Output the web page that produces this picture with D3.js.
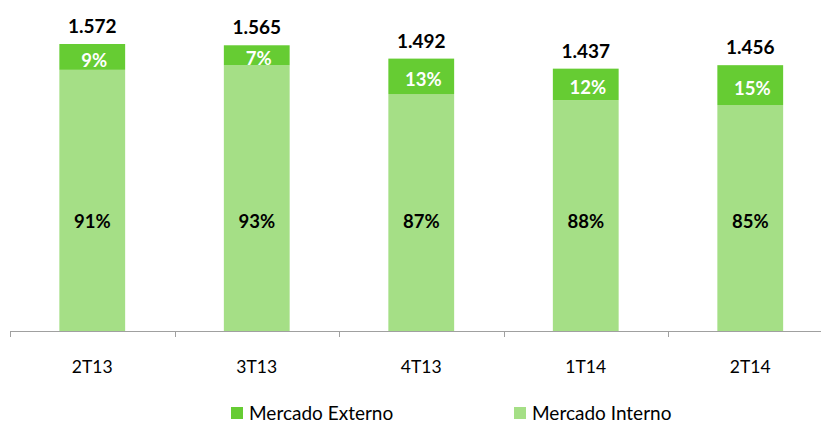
<!DOCTYPE html>
<html><head><meta charset="utf-8">
<script src="https://cdn.jsdelivr.net/npm/d3@7"></script>
<style>body{margin:0;background:#fff}svg{display:block}text{font-family:Lato,"Open Sans",sans-serif}</style>
</head><body>
<svg id="c" width="821" height="423"></svg>
<script>
const categories = ["2T13","3T13","4T13","1T14","2T14"];
const totals = [1572,1565,1492,1437,1456];
const externoPct = [9,7,13,12,15];
const internoPct = [91,93,87,88,85];
const seriesNames = ["Mercado Externo","Mercado Interno"];
const colors = {ext:"#66cc33", int:"#a5df86"};

const svg = d3.select("#c");
const x = d3.scaleBand().domain(categories).range([10, 832.5]).paddingInner(0.6).paddingOuter(0.3);
const y = d3.scaleLinear().domain([0, 1572]).range([331, 44]);

const data = categories.map((c,i)=>{
  const intVal = totals[i]*internoPct[i]/100;
  return {c, total: totals[i], intVal, ext: externoPct[i], int: internoPct[i]};
});

const g = svg.append("g");
g.selectAll("rect.int").data(data).join("rect")
  .attr("x", d=>x(d.c)).attr("width", x.bandwidth())
  .attr("y", d=>y(d.intVal)).attr("height", d=>y(0)-y(d.intVal))
  .attr("fill", colors.int);
g.selectAll("rect.ext").data(data).join("rect")
  .attr("x", d=>x(d.c)).attr("width", x.bandwidth())
  .attr("y", d=>y(d.total)).attr("height", d=>y(d.intVal)-y(d.total))
  .attr("fill", colors.ext);

const band = (832.5-10)/categories.length;
svg.append("line").attr("x1",10).attr("x2",821).attr("y1",331.5).attr("y2",331.5).attr("stroke","#a0a0a0").attr("stroke-width",1);
d3.range(categories.length+1).forEach(i=>{
  const xx = Math.round(10+i*band)+0.5;
  svg.append("line").attr("x1",xx).attr("x2",xx).attr("y1",331).attr("y2",337).attr("stroke","#a0a0a0");
});
svg.selectAll("text.cat").data(categories).join("text")
  .attr("x", d=>x(d)+x.bandwidth()/2).attr("y", 373)
  .attr("text-anchor","middle").attr("font-size",17.5).attr("fill","#000").text(d=>d);

svg.selectAll("text.tot").data(data).join("text")
  .attr("x", d=>x(d.c)+x.bandwidth()/2).attr("y", d=>y(d.total)-11)
  .attr("text-anchor","middle").attr("font-size",19).attr("font-weight","bold").attr("fill","#000")
  .text(d=>d3.format(",")(d.total).replace(",","."));

svg.selectAll("text.ext").data(data).join("text")
  .attr("x", d=>x(d.c)+x.bandwidth()/2+2).attr("y", d=>(y(d.total)+y(d.intVal))/2+3)
  .attr("dominant-baseline","central")
  .attr("text-anchor","middle").attr("font-size",18.5).attr("font-weight","bold").attr("fill","#fff")
  .text(d=>d.ext+"%");

svg.selectAll("text.intl").data(data).join("text")
  .attr("x", d=>x(d.c)+x.bandwidth()/2).attr("y", y(600))
  .attr("dominant-baseline","central")
  .attr("text-anchor","middle").attr("font-size",18.5).attr("font-weight","bold").attr("fill","#000")
  .text(d=>d.int+"%");

const leg = [{n:seriesNames[0],c:colors.ext,x:231},{n:seriesNames[1],c:colors.int,x:514}];
leg.forEach(l=>{
  svg.append("rect").attr("x",l.x).attr("y",407).attr("width",12).attr("height",12).attr("fill",l.c);
  svg.append("text").attr("x",l.x+18).attr("y",420).attr("font-size",19).attr("fill","#000").text(l.n);
});
</script>
</body></html>
